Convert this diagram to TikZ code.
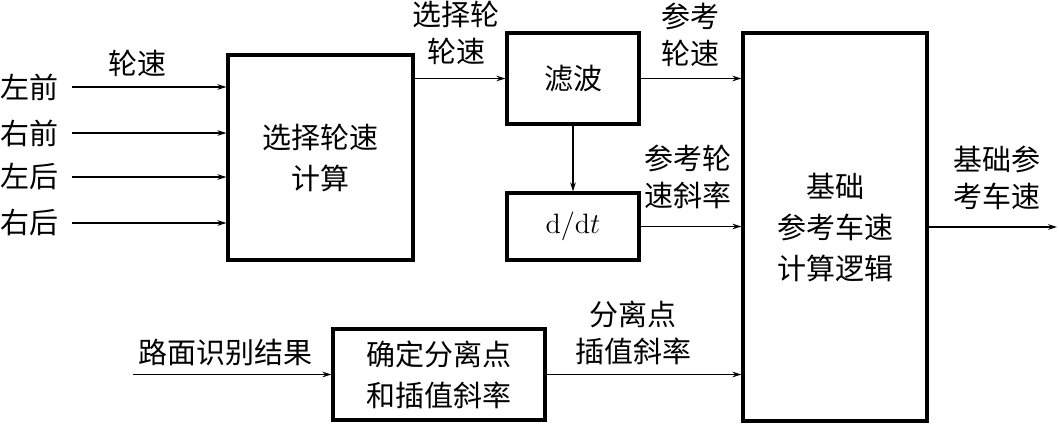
\documentclass[tikz,border=0pt]{standalone}
\usepackage{fontspec}
\usepackage{tikz}
\newfontfamily\cjk{Noto Sans CJK SC}
\usetikzlibrary{positioning}
\usetikzlibrary{arrows.meta}

\begin{document}
\begin{tikzpicture}[
  blk/.style={rectangle, draw=black, line width=1.6pt, inner sep=0pt, align=center, font=\cjk\fontsize{14.5}{20.5}\selectfont},
  lbl/.style={inner sep=0pt, align=center, font=\cjk\fontsize{14.5}{18.5}\selectfont},
  arr/.style={line width=0.65pt, -{Stealth[length=4.5pt, width=2.8pt]}}]
\useasboundingbox (0pt, 0pt) rectangle (529.5pt, -211.5pt);
% blocks
\node (sel) [blk, minimum width=92.5pt, minimum height=102.5pt] at (160.25pt, -78.75pt) {选择轮速\\计算};
\node (filt) [blk, minimum width=66pt, minimum height=45.5pt] at (286.5pt, -39.25pt) {滤波};
\node (diff) [blk, minimum width=66pt, minimum height=33.5pt, font=\fontsize{14}{17}\selectfont] at (286.5pt, -113.25pt) {$\mathrm{d}/\mathrm{d}t$};
\node (base) [blk, minimum width=92pt, minimum height=194pt] at (417.5pt, -113.5pt) {基础\\参考车速\\计算逻辑};
\node (sep) [blk, minimum width=106pt, minimum height=45.5pt] at (219.5pt, -187.25pt) {确定分离点\\和插值斜率};
% inputs
\node (lf) [lbl] at (14.5pt, -43.5pt) {左前};
\node (rf) [lbl] at (14.5pt, -66.5pt) {右前};
\node (lr) [lbl] at (14.5pt, -88.5pt) {左后};
\node (rr) [lbl] at (14.5pt, -111.5pt) {右后};
\coordinate (lf0) at (36pt, -43.5pt);
\coordinate (rf0) at (36pt, -66.5pt);
\coordinate (lr0) at (36pt, -88.5pt);
\coordinate (rr0) at (36pt, -111.5pt);
\coordinate (road) at (66.5pt, -187.25pt);
\coordinate (out) at (528.5pt, -113.5pt);
% labels
\node (ws) [lbl] at (68.5pt, -31.5pt) {轮速};
\node (selws) [lbl] at (228pt, -16.5pt) {选择轮\\轮速};
\node (refws) [lbl] at (345pt, -17.5pt) {参考\\轮速};
\node (refslope) [lbl] at (344pt, -88.5pt) {参考轮\\速斜率};
\node (basev) [lbl] at (498.5pt, -89pt) {基础参\\考车速};
\node (sepslope) [lbl] at (316.5pt, -166.5pt) {分离点\\插值斜率};
\node (roadres) [lbl] at (112.5pt, -176.5pt) {路面识别结果};
% connectors
\draw [arr] (lf0) to (lf0 -| sel.west);
\draw [arr] (rf0) to (rf0 -| sel.west);
\draw [arr] (lr0) to (lr0 -| sel.west);
\draw [arr] (rr0) to (rr0 -| sel.west);
\draw [arr] (sel.east |- filt.west) to (filt.west);
\draw [arr] (filt.east) to (filt.east -| base.west);
\draw [arr] (filt.south) to (diff.north);
\draw [arr] (diff.east) to (diff.east -| base.west);
\draw [arr] (road) to (sep.west);
\draw [arr] (sep.east) to (sep.east -| base.west);
\draw [arr] (base.east) to (out);
\end{tikzpicture}
\end{document}
